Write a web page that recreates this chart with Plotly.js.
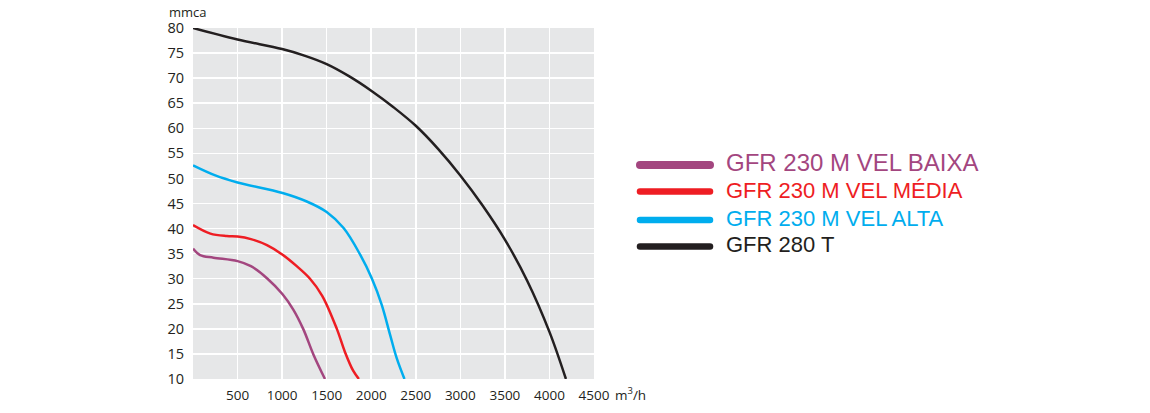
<!DOCTYPE html>
<html>
<head>
<meta charset="utf-8">
<script src="https://cdn.plot.ly/plotly-3.0.1.min.js"></script>
<style>
  body { margin: 0; background: #fff; }
  #chart { width: 1150px; height: 413px; }
  .shapelayer path { stroke-linecap: round !important; }
</style>
</head>
<body>
<div id="chart"></div>
<script>
// flow in m3/h, pressure in mmca
const seriesNames = ['GFR 230 M VEL BAIXA', 'GFR 230 M VEL MÉDIA', 'GFR 230 M VEL ALTA', 'GFR 280 T'];
const seriesColors = ['#a3467f', '#ee1d23', '#00adee', '#231f20'];

const baixaFlow = [0, 80, 230, 500, 650, 830, 1005, 1127, 1239, 1351, 1481];
const baixaPress = [36.0, 34.7, 34.2, 33.5, 32.5, 30.1, 26.9, 23.8, 19.9, 14.9, 10];

const mediaFlow = [0, 195, 380, 500, 650, 830, 1005, 1164, 1313, 1450, 1612, 1705, 1799, 1862];
const mediaPress = [40.7, 39.0, 38.5, 38.4, 37.9, 36.7, 34.8, 32.5, 30.0, 26.6, 20.1, 15.4, 11.6, 10];

const altaFlow = [0, 250, 500, 1005, 1277, 1500, 1690, 1876, 2006, 2118, 2212, 2287, 2373];
const altaPress = [52.6, 50.6, 49.2, 47.1, 45.4, 43.3, 40.1, 34.8, 30.1, 24.8, 18.8, 14.1, 10];

const t280Flow = [0, 500, 1000, 1250, 1500, 1750, 2000, 2250, 2500, 2750, 3000, 3250, 3500, 3750, 4000, 4185];
const t280Press = [80, 77.7, 75.8, 74.5, 72.8, 70.4, 67.5, 64.2, 60.5, 55.9, 50.6, 44.6, 37.8, 29.6, 19.4, 10];

const xTicks = [500, 1000, 1500, 2000, 2500, 3000, 3500, 4000, 4500];
const yTicks = [10, 15, 20, 25, 30, 35, 40, 45, 50, 55, 60, 65, 70, 75, 80];

const flows = [baixaFlow, mediaFlow, altaFlow, t280Flow];
const presses = [baixaPress, mediaPress, altaPress, t280Press];

const traces = seriesNames.map((name, i) => ({
    x: flows[i],
    y: presses[i],
    type: 'scatter',
    mode: 'lines',
    name: name,
    line: { color: seriesColors[i], width: 2.5, shape: 'spline', smoothing: 1 },
    hoverinfo: 'skip'
}));

// plot box in pixels
const L = 193, R = 594, T = 28, B = 379;
const px = x => (x - L) / (R - L);
const py = y => (B - y) / (B - T);

// hand-made legend (long thick swatches like the original)
const legendY = [165, 191.5, 220, 246.5];
const legendTextY = [162.5, 190, 218.5, 244.5];
const legendFont = [24, 22, 22, 22];
const legendWidth = [8, 6.5, 6.5, 6.5];

const shapes = seriesNames.map((n, i) => ({
    type: 'line', xref: 'paper', yref: 'paper',
    x0: px(640), x1: px(710), y0: py(legendY[i]), y1: py(legendY[i]),
    line: { color: seriesColors[i], width: legendWidth[i] }
}));

const annotations = seriesNames.map((n, i) => ({
    text: n, xref: 'paper', yref: 'paper',
    x: px(724), y: py(legendTextY[i]), xanchor: 'left', yanchor: 'middle',
    showarrow: false,
    font: { family: 'Liberation Sans, Arial, sans-serif', size: legendFont[i], color: seriesColors[i] }
}));

annotations.push({
    text: 'mmca', xref: 'paper', yref: 'paper',
    x: px(188), y: py(12), xanchor: 'center', yanchor: 'middle', showarrow: false,
    font: { family: 'Open Sans, sans-serif', size: 13, color: '#231f20' }
});
annotations.push({
    text: 'm<sup>3</sup>/h', xref: 'paper', yref: 'paper',
    x: px(613), y: py(394), xanchor: 'left', yanchor: 'middle', showarrow: false,
    font: { family: 'Open Sans, sans-serif', size: 13.5, color: '#231f20' }
});

const layout = {
    width: 1150,
    height: 413,
    margin: { l: L, r: 1150 - R, t: T, b: 413 - B, pad: 0 },
    paper_bgcolor: '#ffffff',
    plot_bgcolor: '#e6e7e8',
    showlegend: false,
    font: { family: 'Open Sans, sans-serif', size: 13, color: '#231f20' },
    xaxis: {
        range: [0, 4500],
        tickvals: xTicks,
        ticktext: xTicks.map(String),
        tickfont: { size: 13.5 },
        showgrid: true, gridcolor: '#ffffff', gridwidth: 1.5,
        zeroline: false, showline: false,
        ticks: '', ticklabelstandoff: 6,
        fixedrange: true
    },
    yaxis: {
        range: [10, 80],
        tickvals: yTicks,
        ticktext: yTicks.map(String),
        tickfont: { size: 14.5 },
        showgrid: true, gridcolor: '#ffffff', gridwidth: 1.5,
        zeroline: false, showline: false,
        ticks: '', ticklabelstandoff: 8,
        fixedrange: true
    },
    shapes: shapes,
    annotations: annotations
};

Plotly.newPlot('chart', traces, layout, { displayModeBar: false, staticPlot: true });
</script>
</body>
</html>
